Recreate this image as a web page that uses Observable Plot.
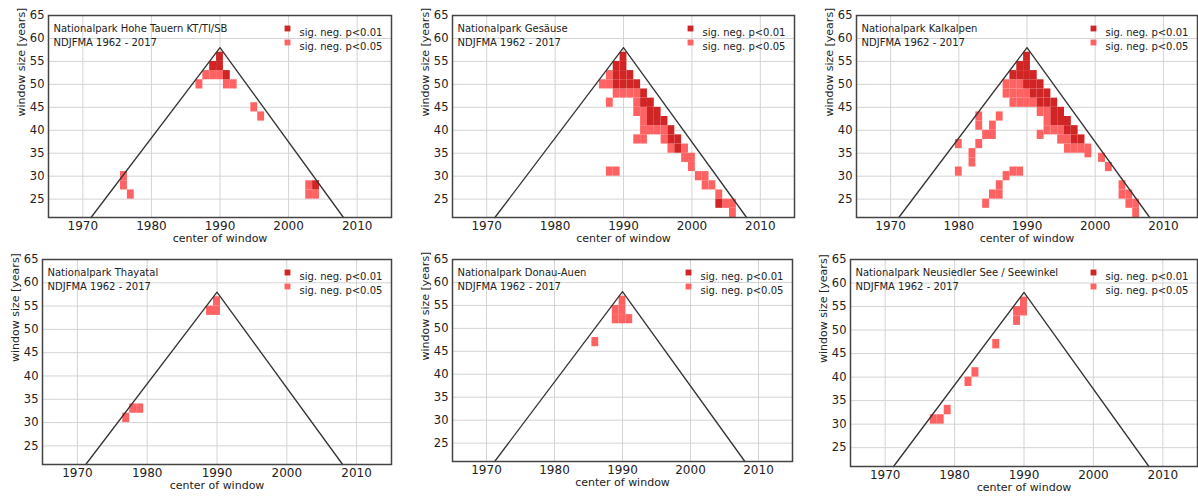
<!DOCTYPE html>
<html><head><meta charset="utf-8">
<script src="https://cdn.jsdelivr.net/npm/d3@7"></script>
<script src="https://cdn.jsdelivr.net/npm/@observablehq/plot@0.6"></script>
<style>
body{margin:0;background:#fff;}
#wrap{position:relative;width:1198px;height:497px;overflow:hidden;font-family:"DejaVu Sans",sans-serif;}
.panel{position:absolute;}
.panel svg, .panel svg text{font-family:"DejaVu Sans",sans-serif !important;}
</style></head><body><div id="wrap"></div>
<script>
// ---- data ----
const parkNames = [
  "Nationalpark Hohe Tauern KT/TI/SB",
  "Nationalpark Gesäuse",
  "Nationalpark Kalkalpen",
  "Nationalpark Thayatal",
  "Nationalpark Donau-Auen",
  "Nationalpark Neusiedler See / Seewinkel"
];
const subtitle = "NDJFMA 1962 - 2017";
const legendLabels = ["sig. neg. p<0.01", "sig. neg. p<0.05"];
const legendColors = ["#d12525", "#ff6262"];
const xTicks = [1970, 1980, 1990, 2000, 2010];
const yTicks = [25, 30, 35, 40, 45, 50, 55, 60, 65];
const triangleCenters = [1971.2, 1990, 2008];
const triangleWindows = [21, 58, 21];

// [center year, window size]
const hoheTauernStrong = [[1990,56],[1990,54],[1989,54],[1991,52],[2004,28]];
const hoheTauernWeak = [[1988,52],[1989,52],[1990,52],[1987,50],[1991,50],[1992,50],[1995,45],[1996,43],
  [1976,28],[1976,30],[1977,26],[2003,26],[2003,28],[2004,26]];

const gesaeuseStrong = [[1990,56],[1989,54],[1990,54],[1989,52],[1990,52],[1991,52],
  [1989,50],[1990,50],[1991,50],[1992,50],[1993,48],[1993,46],[1994,46],[1994,44],[1995,44],
  [1994,42],[1995,42],[1996,42],[1997,40],[1997,38],[1998,38],[1998,36],[2004,24]];
const gesaeuseWeak = [[1988,52],[1987,50],[1988,50],[1989,48],[1990,48],[1991,48],[1992,48],
  [1988,46],[1992,46],[1992,44],[1993,44],[1993,42],[1993,40],[1994,40],[1995,40],[1996,40],
  [1992,38],[1993,38],[1996,38],[1997,36],[1999,36],[1999,34],[2000,34],[2000,32],[1988,31],[1989,31],
  [2001,30],[2002,30],[2002,28],[2003,28],[2004,26],[2005,24],[2006,24],[2006,22]];

const kalkalpenStrong = [[1990,56],[1989,54],[1990,54],[1988,52],[1989,52],[1990,52],[1991,52],
  [1990,50],[1991,50],[1992,50],[1991,48],[1992,48],[1993,48],[1992,46],[1993,46],[1994,46],
  [1994,44],[1995,44],[1994,42],[1995,42],[1996,42],[1996,40],[1997,40],[1997,38],[1998,38]];
const kalkalpenWeak = [[1987,50],[1988,50],[1989,50],[1987,48],[1988,48],[1989,48],[1990,48],
  [1988,46],[1989,46],[1990,46],[1991,46],[1992,44],[1993,44],[1993,42],[1993,40],[1994,40],[1995,40],
  [1992,39],[1995,38],[1996,38],[1996,36],[1997,36],[1998,36],[1999,36],[1999,35],[2001,34],[2002,32],
  [2004,28],[2004,26],[2005,26],[2005,24],[2006,24],[2006,22],
  [1983,43],[1983,41],[1986,43],[1985,41],[1984,39],[1985,39],[1983,37],[1982,35],[1982,33],
  [1980,37],[1980,31],[1988,31],[1989,31],[1987,30],[1986,28],[1986,26],[1985,26],[1984,24]];

const thayatalStrong = [];
const thayatalWeak = [[1990,56],[1989,54],[1990,54],[1977,31],[1978,33],[1979,33]];

const donauAuenStrong = [];
const donauAuenWeak = [[1990,56],[1989,54],[1990,54],[1989,52],[1990,52],[1991,52],[1986,47]];

const neusiedlerStrong = [];
const neusiedlerWeak = [[1990,56],[1990,54],[1989,54],[1989,52],[1986,47],[1983,41],[1982,39],
  [1979,33],[1977,31],[1978,31]];

// ---- layout (frame boxes in page pixels) ----
const panels = [
  {name: parkNames[0], strong: hoheTauernStrong, weak: hoheTauernWeak, frame: [48, 15, 391, 217]},
  {name: parkNames[1], strong: gesaeuseStrong,   weak: gesaeuseWeak,   frame: [452, 15, 794, 217]},
  {name: parkNames[2], strong: kalkalpenStrong,  weak: kalkalpenWeak,  frame: [856, 15, 1197, 217]},
  {name: parkNames[3], strong: thayatalStrong,   weak: thayatalWeak,   frame: [42, 259, 391, 464]},
  {name: parkNames[4], strong: donauAuenStrong,  weak: donauAuenWeak,  frame: [452, 259, 792, 461]},
  {name: parkNames[5], strong: neusiedlerStrong, weak: neusiedlerWeak, frame: [850, 259, 1197, 466]}
];
const mL = 44, mR = 1, mT = 8, mB = 34;
const FF = "DejaVu Sans";
const triangle = triangleCenters.map((c, i) => ({c, w: triangleWindows[i]}));
const wrap = document.getElementById("wrap");

for (const p of panels) {
  const [x0, y0, x1, y1] = p.frame;
  const cells = [
    ...p.weak.map(([c, w]) => ({c, w, level: legendLabels[1]})),
    ...p.strong.map(([c, w]) => ({c, w, level: legendLabels[0]}))
  ];
  const plot = Plot.plot({
    width: x1 - x0 + mL + mR,
    height: y1 - y0 + mT + mB,
    marginLeft: mL, marginRight: mR, marginTop: mT, marginBottom: mB,
    x: {domain: [1965, 2015]},
    y: {domain: [21, 65]},
    color: {domain: legendLabels, range: legendColors},
    style: {fontFamily: FF, color: "#222", background: "transparent", overflow: "visible"},
    marks: [
      Plot.gridX(xTicks, {stroke: "#d4d4d4", strokeOpacity: 1}),
      Plot.gridY(yTicks, {stroke: "#d4d4d4", strokeOpacity: 1}),
      Plot.rect(cells, {x1: d => d.c - 0.5, x2: d => d.c + 0.5, y1: d => d.w - 1, y2: d => d.w + 1, fill: "level", clip: true}),
      Plot.line(triangle, {x: "c", y: "w", stroke: "#333", strokeWidth: 1.3}),
      Plot.frame({stroke: "#444", strokeWidth: 1.5}),
      Plot.axisX(xTicks, {tickSize: 0, tickPadding: 4, fontSize: 12, fontFamily: FF, tickFormat: d => String(d), label: null}),
      Plot.axisY(yTicks, {tickSize: 0, tickPadding: 4, fontSize: 11.5, fontFamily: FF, tickFormat: d => String(d), label: null}),
      Plot.text(["center of window"], {frameAnchor: "bottom", dy: 24, fontSize: 11, fontFamily: FF}),
      Plot.text(["window size [years]"], {frameAnchor: "left", dx: -27, rotate: -90, fontSize: 11, fontFamily: FF}),
      Plot.text([p.name], {frameAnchor: "top-left", dx: 5, dy: 9, textAnchor: "start", fontSize: 10, fontFamily: FF}),
      Plot.text([subtitle], {frameAnchor: "top-left", dx: 5, dy: 23, textAnchor: "start", fontSize: 10, fontFamily: FF}),
      Plot.dot([legendLabels[0]], {frameAnchor: "top-right", dx: -104, dy: 13, symbol: "square", r: 3.3, fill: d => d}),
      Plot.dot([legendLabels[1]], {frameAnchor: "top-right", dx: -104, dy: 27, symbol: "square", r: 3.3, fill: d => d}),
      Plot.text([legendLabels[0]], {frameAnchor: "top-right", dx: -92, dy: 13, textAnchor: "start", fontSize: 10, fontFamily: FF}),
      Plot.text([legendLabels[1]], {frameAnchor: "top-right", dx: -92, dy: 27, textAnchor: "start", fontSize: 10, fontFamily: FF})
    ]
  });
  const div = document.createElement("div");
  div.className = "panel";
  div.style.left = (x0 - mL) + "px";
  div.style.top = (y0 - mT) + "px";
  div.appendChild(plot);
  wrap.appendChild(div);
}
</script></body></html>
